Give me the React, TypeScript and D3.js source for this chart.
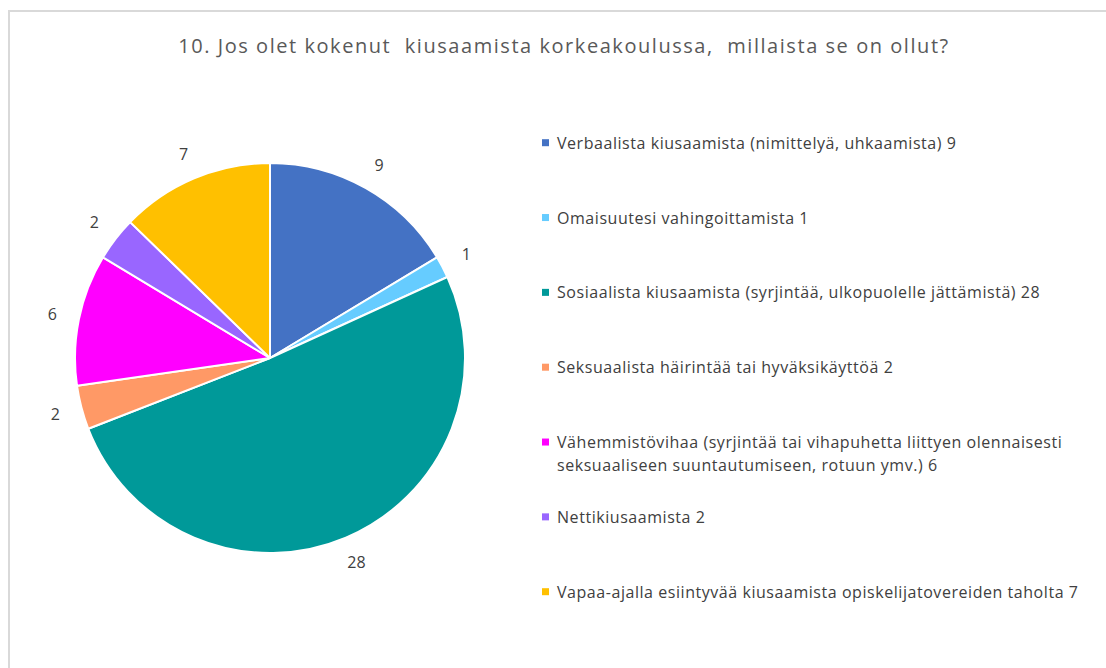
import React from "react";
import * as d3 from "d3";

const categories: string[] = [
  "Verbaalista kiusaamista (nimittelyä, uhkaamista)",
  "Omaisuutesi vahingoittamista",
  "Sosiaalista kiusaamista (syrjintää, ulkopuolelle jättämistä)",
  "Seksuaalista häirintää tai hyväksikäyttöä",
  "Vähemmistövihaa (syrjintää tai vihapuhetta liittyen olennaisesti seksuaaliseen suuntautumiseen, rotuun ymv.)",
  "Nettikiusaamista",
  "Vapaa-ajalla esiintyvää kiusaamista opiskelijatovereiden taholta",
];
const values: number[] = [9, 1, 28, 2, 6, 2, 7];
const legendLines: string[][] = [
  ["Verbaalista kiusaamista (nimittelyä, uhkaamista) 9"],
  ["Omaisuutesi vahingoittamista 1"],
  ["Sosiaalista kiusaamista (syrjintää, ulkopuolelle jättämistä) 28"],
  ["Seksuaalista häirintää tai hyväksikäyttöä 2"],
  [
    "Vähemmistövihaa (syrjintää tai vihapuhetta liittyen olennaisesti",
    "seksuaaliseen suuntautumiseen, rotuun ymv.) 6",
  ],
  ["Nettikiusaamista 2"],
  ["Vapaa-ajalla esiintyvää kiusaamista opiskelijatovereiden taholta 7"],
];
const colors: string[] = [
  "#4472C4",
  "#66CCFF",
  "#009999",
  "#FF9966",
  "#FF00FF",
  "#9966FF",
  "#FFC000",
];
const title = "10. Jos olet kokenut  kiusaamista korkeakoulussa,  millaista se on ollut?";

const W = 1106;
const H = 668;
const FONT = "'Open Sans', Lato, sans-serif";

export default function App() {
  const cx = 270;
  const cy = 358;
  const r = 195;
  const labelR = 222;

  const pie = d3
    .pie<number>()
    .sort(null)
    .value((d) => d)
    .startAngle(0)
    .endAngle(2 * Math.PI);
  const arcs = pie(values);
  const arc = d3.arc<d3.PieArcDatum<number>>().innerRadius(0).outerRadius(r);
  const labelArc = d3
    .arc<d3.PieArcDatum<number>>()
    .innerRadius(labelR)
    .outerRadius(labelR);

  const legendY = d3
    .scalePoint<number>()
    .domain(d3.range(categories.length))
    .range([142.7, 591.7]);

  return (
    <svg
      width={W}
      height={H}
      style={{ position: "absolute", left: 0, top: 0, background: "#fff" }}
      fontFamily={FONT}
    >
      <rect x={0} y={0} width={W} height={H} fill="#fff" />
      <rect
        x={9}
        y={11}
        width={W + 20}
        height={H + 20}
        fill="none"
        stroke="#d9d9d9"
        strokeWidth={2}
      />
      <text
        x={564}
        y={45}
        textAnchor="middle"
        dominantBaseline="central"
        fontSize={20}
        letterSpacing={1.55}
        fill="#595959"
        style={{ whiteSpace: "pre" }}
      >
        {title}
      </text>
      <g transform={`translate(${cx},${cy})`}>
        {arcs.map((a, i) => (
          <path
            key={i}
            d={arc(a) || ""}
            fill={colors[i]}
            stroke="#fff"
            strokeWidth={2}
            strokeLinejoin="round"
          />
        ))}
        {arcs.map((a, i) => {
          const [x, y] = labelArc.centroid(a);
          return (
            <text
              key={i}
              x={x}
              y={y}
              textAnchor="middle"
              dominantBaseline="central"
              fontSize={16}
              fill="#404040"
            >
              {values[i]}
            </text>
          );
        })}
      </g>
      <g>
        {categories.map((c, i) => {
          const y = legendY(i) as number;
          return (
            <g key={c}>
              <rect x={542} y={y - 3.5} width={7} height={7} fill={colors[i]} />
              {legendLines[i].map((ln, j) => (
                <text
                  key={j}
                  x={557}
                  y={y + j * 22.5}
                  dominantBaseline="central"
                  fontSize={16}
                  letterSpacing={0.55}
                  fill="#404040"
                >
                  {ln}
                </text>
              ))}
            </g>
          );
        })}
      </g>
    </svg>
  );
}
